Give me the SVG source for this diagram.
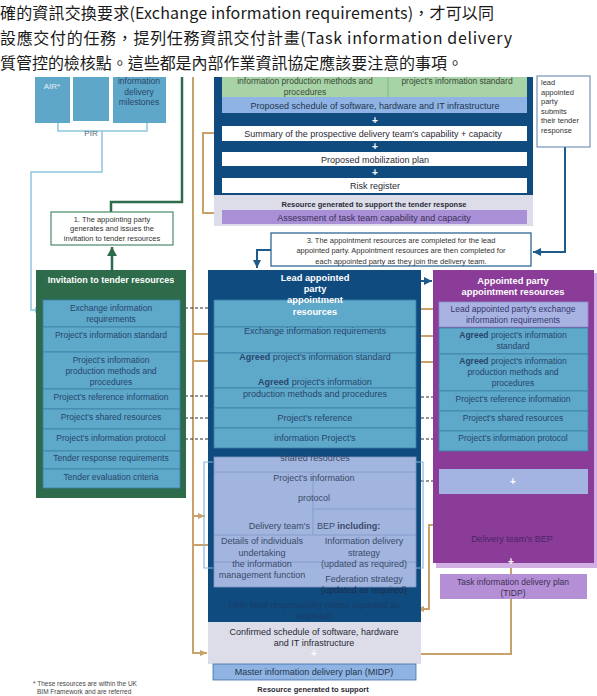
<svg xmlns="http://www.w3.org/2000/svg" width="597" height="696" viewBox="0 0 597 696">
<style>
text{font-family:"Liberation Sans",Arial,sans-serif}
.cjk{font-family:"Noto Sans CJK TC","Noto Sans CJK SC",sans-serif;font-size:16px;fill:#1a1a1a}
.row{fill:#5ea8ca;stroke:#3d80a6;stroke-width:0.8}
.rt{font-size:8.5px;fill:#27466a;text-anchor:middle}
.mt{font-size:9px;fill:#27466a;text-anchor:middle}
.lt{font-size:9px;fill:#3a4a6a;text-anchor:middle}
.wt{fill:#fff;font-weight:bold;text-anchor:middle;font-size:9.3px}
.bt{font-size:9px;fill:#2a2a35;text-anchor:middle}
.ct{font-size:7.5px;fill:#333;text-anchor:middle}
.nt{font-size:7.5px;fill:#333}
.plus{fill:#fff;font-weight:bold;font-size:10px;text-anchor:middle}
.tan{stroke:#c8a26a;stroke-width:2;fill:none}
.dash{stroke:#2a2a2a;stroke-width:1;stroke-dasharray:3 2;fill:none}
.lb{stroke:#8cc6dd;stroke-width:1.5;fill:none}
.grn{stroke:#2e6b4b;stroke-width:2.5;fill:none}
.blu{stroke:#1e5a8a;stroke-width:2;fill:none}
.br{stroke:#86b6dc;stroke-width:1.2;fill:none}
</style>
<defs>
<marker id="aTan" markerUnits="userSpaceOnUse" markerWidth="8" markerHeight="8" refX="7" refY="4" orient="auto"><path d="M0,1 L7,4 L0,7 Z" fill="#c8a26a"/></marker>
<marker id="aDk" markerUnits="userSpaceOnUse" markerWidth="7" markerHeight="7" refX="6" refY="3.5" orient="auto"><path d="M0,1 L6,3.5 L0,6 Z" fill="#2a2a2a"/></marker>
<marker id="aBlu" markerUnits="userSpaceOnUse" markerWidth="10" markerHeight="10" refX="8" refY="5" orient="auto"><path d="M0,1 L8,5 L0,9 Z" fill="#1e5a8a"/></marker>
<marker id="aGrn" markerUnits="userSpaceOnUse" markerWidth="12" markerHeight="12" refX="9" refY="6" orient="auto"><path d="M0,1 L9,6 L0,11 Z" fill="#2e6b4b"/></marker>
<marker id="aLb" markerUnits="userSpaceOnUse" markerWidth="8" markerHeight="8" refX="7" refY="4" orient="auto"><path d="M0,1 L7,4 L0,7 Z" fill="#8cc6dd"/></marker>
</defs>
<rect width="597" height="696" fill="#fff"/>

<g id="intro">
<text class="cjk" x="0" y="19" textLength="494" lengthAdjust="spacing">確的資訊交換要求(Exchange  information  requirements)，才可以同</text>
<text class="cjk" x="0" y="44" textLength="512" lengthAdjust="spacing">設應交付的任務，提列任務資訊交付計畫(Task information delivery</text>
<text class="cjk" x="0" y="69" textLength="463" lengthAdjust="spacing">質管控的檢核點。這些都是內部作業資訊協定應該要注意的事項。</text>
</g>

<g id="connectors">
<path class="lb" d="M58,123 V131 H147 V123"/>
<path class="lb" d="M102,131 V172 H31 V310 H42" marker-end="url(#aLb)"/>
<path class="grn" d="M182,77 V202 H111 V212"/>
<path class="grn" d="M112,270 V247" marker-end="url(#aGrn)"/>
<path class="tan" d="M193,77 V653 H207" marker-end="url(#aTan)"/>
<path class="tan" d="M193,334 H222" marker-end="url(#aTan)"/>
<path class="tan" d="M193,361 H222" marker-end="url(#aTan)"/>
<path class="tan" d="M193,516 H205" marker-end="url(#aTan)"/>
<path class="tan" d="M193,545 H213"/>
<path class="tan" d="M222,213 H203 V133 H228" marker-end="url(#aTan)"/>
<path class="tan" d="M421,309 H446" marker-end="url(#aTan)"/>
<path class="tan" d="M421,336 H446" marker-end="url(#aTan)"/>
<path class="tan" d="M421,362 H446" marker-end="url(#aTan)"/>
<path class="tan" d="M437,525 H429 V609 H417" marker-end="url(#aTan)"/>
<path class="tan" d="M511,545 V654 H421"/>
<path class="dash" d="M180,308 H222" marker-end="url(#aDk)"/>
<path class="dash" d="M180,396 H222" marker-end="url(#aDk)"/>
<path class="dash" d="M180,418 H222" marker-end="url(#aDk)"/>
<path class="dash" d="M180,439 H222" marker-end="url(#aDk)"/>
<path class="dash" d="M421,397 H446" marker-end="url(#aDk)"/>
<path class="dash" d="M421,418 H446" marker-end="url(#aDk)"/>
<path class="dash" d="M421,439 H446" marker-end="url(#aDk)"/>
<path class="dash" d="M421,481 H440" marker-end="url(#aDk)"/>
<path class="blu" d="M565,147 V252 H533" marker-end="url(#aBlu)"/>
<path class="blu" d="M271,250 H257 V268" marker-end="url(#aBlu)"/>
<path class="blu" d="M421,281 H432" marker-end="url(#aBlu)"/>
</g>

<g id="pir-boxes">
<rect x="35" y="77" width="35" height="46" fill="#5fa7c9"/>
<rect x="73" y="77" width="36" height="44" fill="#5fa7c9"/>
<rect x="113" y="77" width="53" height="46" fill="#5fa7c9"/>
<text x="52" y="89" style="font-size:8px;fill:#e4eef5;text-anchor:middle">AIR*</text>
<text x="139" y="84" class="rt">information</text>
<text x="139" y="95" class="rt">delivery</text>
<text x="139" y="105" class="rt">milestones</text>
<text x="91" y="136" style="font-size:8px;fill:#5a6a7a;text-anchor:middle">PIR</text>
</g>

<g id="tender-response">
<rect x="214" y="77" width="319" height="118" fill="#0f4b7f"/>
<rect x="214" y="195" width="319" height="31" fill="#dcdde9"/>
<rect x="222" y="77" width="305" height="20" fill="#a8d3a6"/>
<line x1="388" y1="77" x2="388" y2="97" stroke="#7fae85" stroke-width="0.8"/>
<text x="305" y="84" class="bt" style="font-size:8.5px;fill:#3a4a3a">information  production methods and</text>
<text x="305" y="95" class="bt" style="font-size:8.5px;fill:#3a4a3a">procedures</text>
<text x="457" y="84" class="bt" style="font-size:8.5px;fill:#3a4a3a">project's  information  standard</text>
<rect x="222" y="97" width="305" height="16" fill="#8eb3e4"/>
<text x="375" y="109" class="bt" style="fill:#24364f">Proposed schedule of software, hardware and IT infrastructure</text>
<text x="375" y="124" class="plus">+</text>
<rect x="222" y="126" width="305" height="15" fill="#fff"/>
<text x="373" y="137" class="bt">Summary of the prospective delivery team's capability + capacity</text>
<text x="375" y="150" class="plus">+</text>
<rect x="222" y="152" width="305" height="14" fill="#fff"/>
<text x="375" y="163" class="bt">Proposed mobilization plan</text>
<text x="375" y="176" class="plus">+</text>
<rect x="222" y="178" width="305" height="15" fill="#fff"/>
<text x="375" y="189" class="bt">Risk register</text>
<text x="374" y="207" style="font-size:7.5px;font-weight:bold;fill:#2a2a3a;text-anchor:middle">Resource generated to support the tender  response</text>
<rect x="222" y="210" width="305" height="14" fill="#a98fd6"/>
<text x="374" y="221" class="bt" style="fill:#3a2f55">Assessment of task team capability and capacity</text>
</g>

<g id="tender-submit-note">
<rect x="537" y="76" width="53" height="71" fill="#fff" stroke="#5a7fa8" stroke-width="1"/>
<text x="541" y="85" class="nt">lead</text>
<text x="541" y="95" class="nt">appointed</text>
<text x="541" y="104" class="nt">party</text>
<text x="541" y="114" class="nt">submits</text>
<text x="541" y="123" class="nt">their tender</text>
<text x="541" y="133" class="nt">response</text>
</g>

<g id="step1">
<rect x="51" y="212" width="122" height="33" fill="#fff" stroke="#4a8a6a" stroke-width="1.2"/>
<text x="112" y="222" class="ct">1. The appointing party</text>
<text x="112" y="231" class="ct">generates and issues the</text>
<text x="112" y="241" class="ct">invitation to tender resources</text>
</g>

<g id="step3">
<rect x="271" y="233" width="260" height="33" fill="#fff" stroke="#1e5a8a" stroke-width="1.2"/>
<text x="401" y="243" class="ct">3. The appointment resources are completed for the lead</text>
<text x="401" y="253" class="ct">appointed party.  Appointment resources are then completed for</text>
<text x="401" y="264" class="ct">each appointed party as they join the delivery team.</text>
</g>

<g id="invitation-to-tender">
<rect x="36" y="270" width="150" height="228" fill="#2e6b4b"/>
<text x="111" y="283" class="wt" style="font-size:9px">Invitation to tender resources</text>
<rect x="43" y="300" width="137" height="27" class="row"/>
<rect x="43" y="327" width="137" height="25" class="row"/>
<rect x="43" y="352" width="137" height="37" class="row"/>
<rect x="43" y="389" width="137" height="20" class="row"/>
<rect x="43" y="409" width="137" height="20" class="row"/>
<rect x="43" y="429" width="137" height="22" class="row"/>
<rect x="43" y="451" width="137" height="18" class="row"/>
<rect x="43" y="469" width="137" height="19" class="row"/>
<text x="111" y="311" class="rt">Exchange information</text>
<text x="111" y="322" class="rt">requirements</text>
<text x="111" y="338" class="rt">Project's information standard</text>
<text x="111" y="363" class="rt">Project's information</text>
<text x="111" y="374" class="rt">production methods and</text>
<text x="111" y="385" class="rt">procedures</text>
<text x="111" y="400" class="rt">Project's reference information</text>
<text x="111" y="420" class="rt">Project's shared resources</text>
<text x="111" y="441" class="rt">Project's information protocol</text>
<text x="111" y="461" class="rt">Tender response requirements</text>
<text x="111" y="480" class="rt">Tender evaluation criteria</text>
</g>

<g id="lead-appointed">
<rect x="208" y="270" width="213" height="352" fill="#0f4b7f"/>
<rect x="214" y="300" width="202" height="27" class="row"/>
<rect x="214" y="327" width="202" height="26" class="row"/>
<rect x="214" y="353" width="202" height="35" class="row"/>
<rect x="214" y="388" width="202" height="20" class="row"/>
<rect x="214" y="408" width="202" height="20" class="row"/>
<rect x="214" y="428" width="202" height="20" class="row"/>
<rect x="214" y="457" width="202" height="130" fill="#a2b5de" stroke="#7f97c6" stroke-width="0.8"/>
<path d="M214,472 H416 M313,472 V535 M313,509 H416 M214,535 H416 M214,562 H416" stroke="#7f97c6" stroke-width="0.8" fill="none"/>
<text x="315" y="281" class="wt">Lead appointed</text>
<text x="315" y="292" class="wt">party</text>
<text x="315" y="303" class="wt">appointment</text>
<text x="315" y="315" class="wt">resources</text>
<text x="315" y="334" class="mt">Exchange information requirements</text>
<text x="315" y="360" class="mt"><tspan style="font-weight:bold">Agreed</tspan> project's information standard</text>
<text x="315" y="385" class="mt"><tspan style="font-weight:bold">Agreed</tspan> project's information</text>
<text x="315" y="397" class="mt">production methods and procedures</text>
<text x="315" y="421" class="mt">Project's reference</text>
<text x="315" y="441" class="mt">information Project's</text>
<text x="315" y="461" class="lt">shared resources</text>
<text x="314" y="481" class="lt">Project's information</text>
<text x="314" y="501" class="lt">protocol</text>
<text x="310" y="529" class="lt" style="text-anchor:end">Delivery team's</text>
<text x="317" y="529" class="lt" style="text-anchor:start">BEP <tspan style="font-weight:bold">including:</tspan></text>
<text x="262" y="544" class="lt">Details of individuals</text>
<text x="262" y="556" class="lt">undertaking</text>
<text x="262" y="567" class="lt">the information</text>
<text x="262" y="578" class="lt">management function</text>
<text x="364" y="544" class="lt">Information delivery</text>
<text x="364" y="556" class="lt">strategy</text>
<text x="364" y="567" class="lt">(updated as required)</text>
<text x="364" y="582" class="lt">Federation strategy</text>
<text x="364" y="593" class="lt" style="fill:#1c2e4e">(updated as required)</text>
<text x="314" y="608" class="lt" style="fill:#1a3c68">High level responsibility matrix (updated as</text>
<text x="314" y="619" class="lt" style="fill:#1a3c68">required)</text>
<path class="br" d="M213,462 H204 V568 H213"/>
<path class="br" d="M416,462 H423 V568 H416"/>
<rect x="208" y="622" width="213" height="42" fill="#dcdde9"/>
<text x="314" y="635" class="bt">Confirmed schedule of software, hardware</text>
<text x="314" y="646" class="bt">and IT infrastructure</text>
<text x="314" y="657" class="plus">+</text>
<rect x="213" y="664" width="203" height="16" fill="#8fb3e2" stroke="#3f6fa8" stroke-width="0.8"/>
<text x="314" y="675" class="bt" style="fill:#22364f">Master information delivery plan (MIDP)</text>
<text x="313" y="692" style="font-size:7.5px;font-weight:bold;fill:#2a2a35;text-anchor:middle">Resource generated to support</text>
</g>

<g id="appointed-party">
<rect x="436" y="273" width="161" height="295" fill="#d2afe2"/>
<rect x="433" y="270" width="161" height="293" fill="#8a3c98"/>
<text x="513" y="284" class="wt">Appointed party</text>
<text x="513" y="295" class="wt">appointment resources</text>
<rect x="439" y="302" width="149" height="25" fill="#a9b3e2" stroke="#8a8fcf" stroke-width="0.8"/>
<rect x="439" y="328" width="149" height="26" class="row"/>
<rect x="439" y="354" width="149" height="37" class="row"/>
<rect x="439" y="391" width="149" height="20" class="row"/>
<rect x="439" y="411" width="149" height="20" class="row"/>
<rect x="439" y="431" width="149" height="20" class="row"/>
<text x="513" y="312" class="rt" style="fill:#34386e">Lead appointed party's exchange</text>
<text x="513" y="323" class="rt" style="fill:#34386e">information requirements</text>
<text x="513" y="338" class="rt"><tspan style="font-weight:bold">Agreed</tspan> project's information</text>
<text x="513" y="349" class="rt">standard</text>
<text x="513" y="364" class="rt"><tspan style="font-weight:bold">Agreed</tspan> project's information</text>
<text x="513" y="375" class="rt">production methods and</text>
<text x="513" y="386" class="rt">procedures</text>
<text x="513" y="402" class="rt">Project's reference information</text>
<text x="513" y="421" class="rt">Project's shared resources</text>
<text x="513" y="441" class="rt">Project's information protocol</text>
<rect x="439" y="469" width="149" height="25" fill="#a3b3e2"/>
<text x="513" y="485" class="plus">+</text>
<text x="512" y="542" style="font-size:9px;fill:#4a2568;text-anchor:middle">Delivery team's BEP</text>
<text x="511" y="565" class="plus">+</text>
<rect x="440" y="574" width="147" height="25" fill="#b48fd6"/>
<text x="513" y="585" class="rt" style="fill:#3a3050">Task information delivery plan</text>
<text x="513" y="596" class="rt" style="fill:#3a3050">(TIDP)</text>
</g>

<g id="footnote">
<text x="33" y="686" style="font-size:6.5px;fill:#444">* These resources are within the UK</text>
<text x="37" y="694" style="font-size:6.5px;fill:#444">BIM Framework and are referred</text>
</g>
</svg>
